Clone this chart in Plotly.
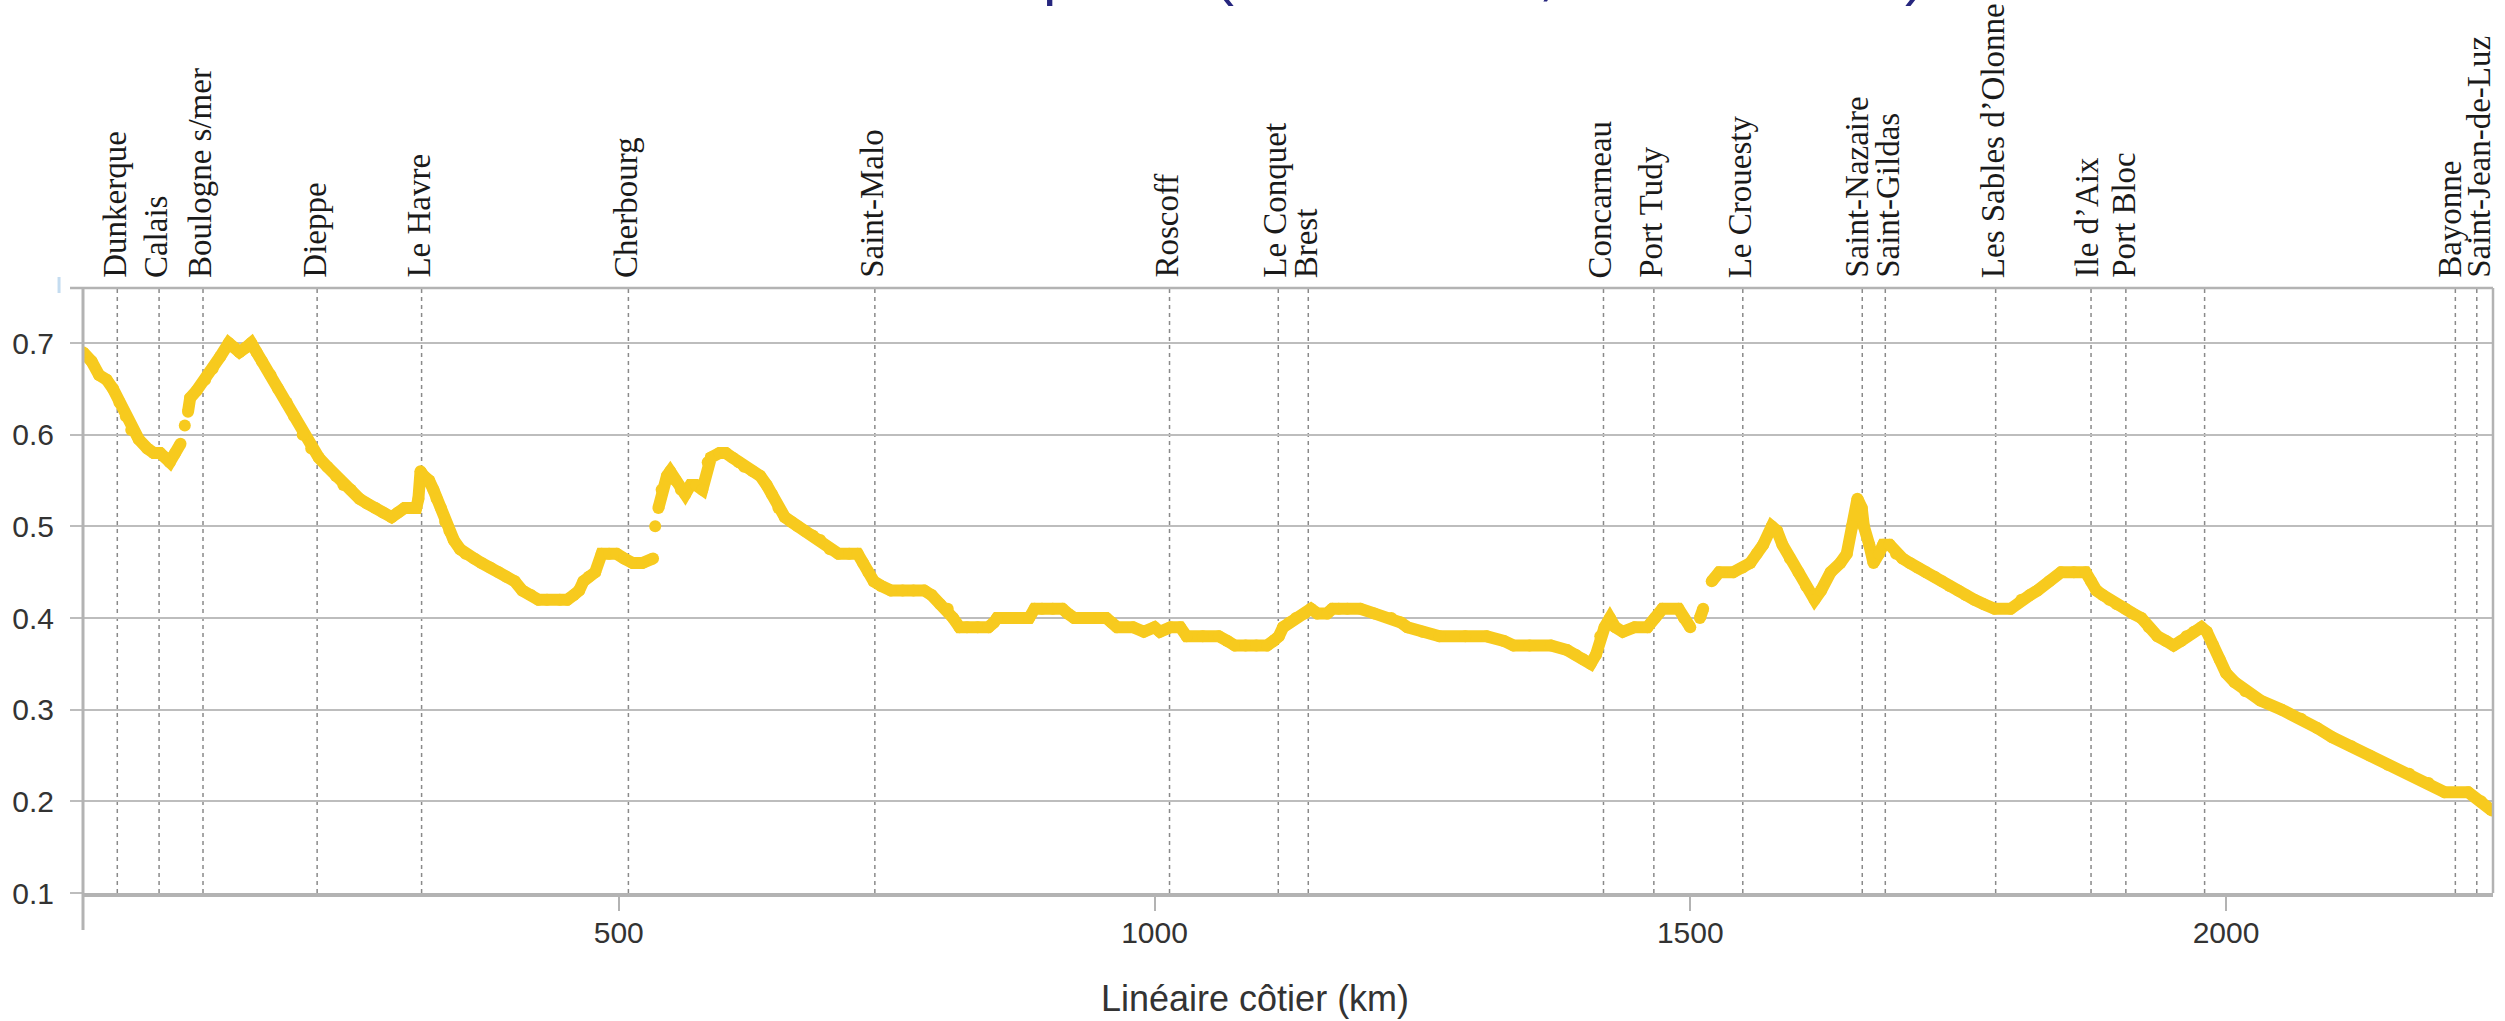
import plotly.graph_objects as go

# Coastal profile: distance along the coast (km) and index value.
# None marks a break in the sampled series.
km = [0, 8, 15, 22, 28, 34, 40, 45, 52, 60, 66, 72, 77, 81, 86, 91, None,
      95, None,
      98, 100, 106, 114, 121, 128, 136, 141, 146, 152, 157, 162, 167, 175,
      182, 190, 197, 205, 213, 220, 228, 236, 243, 250, 258, 265, 273, 280,
      288, 294, 300, 306, 311, 313, 315, 318, 323, 327, 330, 334, 338, 342,
      346, 352, 357, 365, 372, 380, 388, 395, 403, 410, 418, 425, 433, 445,
      452, 458, 463, 467, 472, 478, 484, 491, 498, 505, 513, 522, 532, None,
      534, None,
      537, 540, 545, 548, 553, 558, 562, 567, 572, 578, 583, 586, 594, 600,
      606, 612, 617, 625, 632, 638, 643, 649, 655, 661, 667, 674, 681, 688,
      697, 705, 715, 723, 728, 733, 738, 745, 754, 765, 775, 785, 792, 800,
      807, 812, 818, 825, 835, 845, 850, 853, 865, 875, 883, 888, 895, 905,
      914, 919, 925, 940, 955, 960, 965, 980, 990, 1000, 1005, 1015, 1024,
      1030, 1045, 1060, 1068, 1075, 1085, 1095, 1105, 1111, 1116, 1120, 1126,
      1132, 1140, 1146, 1152, 1161, 1166, 1172, 1180, 1192, 1205, 1221, 1230,
      1236, 1250, 1266, 1290, 1310, 1326, 1335, 1350, 1370, 1385, 1393, 1400,
      1407, 1412, 1416, 1420, 1425, 1430, 1437, 1448, 1460, 1467, 1474, 1489,
      1494, 1500, None,
      1509, 1512, None,
      1520, 1527, 1540, 1549, 1556, 1562, 1568, 1576, 1581, 1586, 1593, 1601,
      1608, 1616, 1622, 1631, 1640, 1646, 1651, 1656, 1660, 1662, 1667, 1671,
      1676, 1680, 1686, 1692, 1698, 1705, 1712, 1720, 1728, 1735, 1742, 1750,
      1757, 1765, 1774, 1784, 1799, 1809, 1817, 1824, 1835, 1846, 1858, 1869,
      1874, 1879, 1885, 1891, 1898, 1906, 1913, 1921, 1928, 1936, 1944, 1951,
      1958, 1963, 1970, 1977, 1982, 1988, 1994, 2000, 2008, 2018, 2032, 2052,
      2070, 2085, 2099, 2117, 2134, 2151, 2171, 2189, 2204, 2226, 2238, 2248]

index_value = [0.69, 0.68, 0.665, 0.66, 0.65, 0.635, 0.62, 0.605, 0.595, 0.585,
               0.58, 0.58, 0.575, 0.57, 0.58, 0.59, None,
               0.61, None,
               0.625, 0.64, 0.648, 0.66, 0.672, 0.685, 0.70, 0.695, 0.69,
               0.695, 0.70, 0.69, 0.68, 0.665, 0.65, 0.635, 0.62, 0.60, 0.585,
               0.575, 0.565, 0.555, 0.545, 0.54, 0.53, 0.525, 0.52, 0.515,
               0.51, 0.515, 0.52, 0.52, 0.52, 0.53, 0.56, 0.555, 0.55, 0.54,
               0.53, 0.52, 0.505, 0.495, 0.485, 0.475, 0.47, 0.465, 0.46,
               0.455, 0.45, 0.445, 0.44, 0.43, 0.425, 0.42, 0.42, 0.42, 0.42,
               0.425, 0.43, 0.44, 0.445, 0.45, 0.47, 0.47, 0.47, 0.465, 0.46,
               0.46, 0.465, None,
               0.50, None,
               0.52, 0.54, 0.555, 0.56, 0.55, 0.54, 0.535, 0.545, 0.545, 0.54,
               0.57, 0.575, 0.58, 0.58, 0.575, 0.57, 0.565, 0.56, 0.555,
               0.545, 0.535, 0.52, 0.51, 0.505, 0.50, 0.495, 0.49, 0.485,
               0.475, 0.47, 0.47, 0.47, 0.46, 0.45, 0.44, 0.435, 0.43, 0.43,
               0.43, 0.43, 0.425, 0.415, 0.41, 0.40, 0.39, 0.39, 0.39, 0.39,
               0.395, 0.40, 0.40, 0.40, 0.40, 0.41, 0.41, 0.41, 0.41, 0.405,
               0.40, 0.40, 0.40, 0.395, 0.39, 0.39, 0.385, 0.39, 0.385, 0.39,
               0.39, 0.38, 0.38, 0.38, 0.375, 0.37, 0.37, 0.37, 0.37, 0.375,
               0.38, 0.39, 0.395, 0.40, 0.405, 0.41, 0.405, 0.405, 0.41, 0.41,
               0.41, 0.41, 0.405, 0.40, 0.395, 0.39, 0.385, 0.38, 0.38, 0.38,
               0.375, 0.37, 0.37, 0.37, 0.365, 0.36, 0.355, 0.35, 0.36, 0.38,
               0.39, 0.40, 0.39, 0.385, 0.39, 0.39, 0.40, 0.41, 0.41, 0.40,
               0.39, None,
               0.40, 0.41, None,
               0.44, 0.45, 0.45, 0.455, 0.46, 0.47, 0.48, 0.50, 0.495, 0.48,
               0.465, 0.45, 0.435, 0.42, 0.43, 0.45, 0.46, 0.47, 0.50, 0.53,
               0.52, 0.50, 0.48, 0.46, 0.47, 0.48, 0.48, 0.47, 0.465, 0.46,
               0.455, 0.45, 0.445, 0.44, 0.435, 0.43, 0.425, 0.42, 0.415, 0.41,
               0.41, 0.42, 0.425, 0.43, 0.44, 0.45, 0.45, 0.45, 0.44, 0.43,
               0.425, 0.42, 0.415, 0.41, 0.405, 0.40, 0.39, 0.38, 0.375, 0.37,
               0.375, 0.38, 0.385, 0.39, 0.385, 0.37, 0.355, 0.34, 0.33, 0.32,
               0.31, 0.30, 0.29, 0.28, 0.27, 0.26, 0.25, 0.24, 0.23, 0.22,
               0.21, 0.21, 0.20, 0.19]

# Ports along the coast and their distance (km)
port_names = ["Dunkerque", "Calais", "Boulogne s/mer", "Dieppe", "Le Havre",
              "Cherbourg", "Saint-Malo", "Roscoff", "Le Conquet", "Brest",
              "Concarneau", "Port Tudy", "Le Crouesty", "Saint-Nazaire",
              "Saint-Gildas", "Les Sables d’Olonne", "Ile d’Aix", "Port Bloc",
              "", "Bayonne", "Saint-Jean-de-Luz"]
port_km = [32, 71, 112, 218.5, 316, 509, 739, 1014, 1115.5, 1143.5, 1419,
           1466, 1549, 1660.5, 1682, 1785, 1874, 1906.5, 1980, 2214, 2234]

x_ticks = [500, 1000, 1500, 2000]
y_ticks = [0.1, 0.2, 0.3, 0.4, 0.5, 0.6, 0.7]
x_title = "Linéaire côtier (km)"

W, H = 2505, 1021
ML, MR, MT, MB = 79, 12, 288, 128
PW, PH = W - ML - MR, H - MT - MB

def py(pix_y):
    """Paper y for a pixel row measured from the top of the page."""
    return (H - MB - pix_y) / PH

def px(pix_x):
    return (pix_x - ML) / PW

YELLOW = "#f7ca1e"
GRID = "#bdbdbd"

fig = go.Figure()
fig.add_trace(go.Scatter(
    x=km, y=index_value, mode="lines+markers",
    line=dict(color=YELLOW, width=12),
    marker=dict(color=YELLOW, size=12),
    connectgaps=False, hoverinfo="skip", showlegend=False,
))

shapes = []
# dashed port markers
for k in port_km:
    shapes.append(dict(type="line", xref="x", yref="paper", x0=k, x1=k,
                       y0=0, y1=1, layer="below",
                       line=dict(color="#8a8a8a", width=1.5, dash="4px,4px")))
# frame: top, right, extended y-axis
shapes.append(dict(type="line", xref="paper", yref="paper", x0=px(66), x1=1,
                   y0=1, y1=1, line=dict(color="#b3b3b3", width=2.5)))
shapes.append(dict(type="line", xref="paper", yref="paper", x0=1, x1=1,
                   y0=0, y1=1, line=dict(color="#b3b3b3", width=2.5)))
shapes.append(dict(type="line", xref="paper", yref="paper", x0=0, x1=0,
                   y0=py(930), y1=1, line=dict(color="#b3b3b3", width=3)))
shapes.append(dict(type="line", xref="paper", yref="paper", x0=px(55),
                   x1=px(55), y0=py(293), y1=py(277),
                   line=dict(color="#c4dcf0", width=3)))

# neighbouring labels are nudged apart so their columns don't collide
label_shift = {"Le Conquet": -4, "Brest": -2, "Saint-Nazaire": -6,
               "Saint-Gildas": 2, "Ile d’Aix": -5, "Port Bloc": -2,
               "Bayonne": -6, "Saint-Jean-de-Luz": 2}

annotations = []
for name, k in zip(port_names, port_km):
    if not name:
        continue
    annotations.append(dict(
        text=name, x=k, xref="x", y=py(278), yref="paper",
        textangle=-90, xanchor="center", yanchor="bottom", showarrow=False,
        borderpad=0, borderwidth=0, xshift=label_shift.get(name, -3),
        font=dict(family="Liberation Serif", size=33, color="#1a1a1a"),
    ))

annotations.append(dict(
    text=x_title, x=px(1253), y=py(998), xref="paper", yref="paper",
    xanchor="center", yanchor="middle", showarrow=False,
    font=dict(family="Liberation Sans", size=36, color="#333333"),
))

# heading glyphs running off the top of the page
for glyph, gx in [("p", 1057), ("(", 1222), (",", 1545), (")", 1914)]:
    annotations.append(dict(
        text=glyph, x=px(gx), y=py(7), xref="paper", yref="paper",
        xanchor="center", yanchor="bottom", showarrow=False,
        borderpad=0, borderwidth=0,
        font=dict(family="Liberation Sans", size=60, color="#26267e"),
    ))

fig.update_layout(
    width=W, height=H,
    margin=dict(l=ML, r=MR, t=MT, b=MB, pad=0),
    paper_bgcolor="white", plot_bgcolor="white",
    shapes=shapes, annotations=annotations,
    hovermode=False,
    xaxis=dict(
        range=[0, PW / 1.0733], tickvals=x_ticks,
        showgrid=False, zeroline=False,
        showline=True, linecolor="#b3b3b3", linewidth=4,
        ticks="outside", ticklen=14, tickwidth=2, tickcolor="#b3b3b3",
        ticklabelstandoff=-4,
        tickfont=dict(family="Liberation Sans", size=30, color="#333333"),
    ),
    yaxis=dict(
        range=[0.1, 0.76], tickvals=y_ticks, tickformat=".1f",
        showgrid=True, gridcolor=GRID, gridwidth=2, zeroline=False,
        showline=False,
        ticks="outside", ticklen=12, tickwidth=2, tickcolor=GRID,
        ticklabelstandoff=10,
        tickfont=dict(family="Liberation Sans", size=30, color="#333333"),
    ),
)

fig.write_html("out.html")
